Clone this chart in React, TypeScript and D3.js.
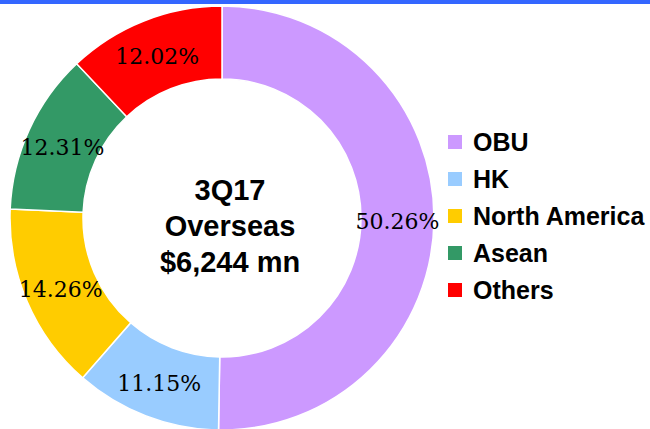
import React from 'react';
import * as d3 from 'd3';

const categories = ['OBU', 'HK', 'North America', 'Asean', 'Others'];
const shares = [50.26, 11.15, 14.26, 12.31, 12.02];
const colors = ['#CC99FF', '#99CCFF', '#FFCC00', '#339966', '#FF0000'];
const centerLines = ['3Q17', 'Overseas', '$6,244 mn'];

const W = 650;
const H = 429;

export default function App() {
  const cx = 222;
  const cy = 218;

  const pie = d3.pie<number>().sort(null).value(d => d);
  const arcs = pie(shares);
  const arc = d3.arc<d3.PieArcDatum<number>>().innerRadius(139).outerRadius(212);

  const legendY = d3.scalePoint<string>().domain(categories).range([142, 290]);

  return (
    <div style={{ position: 'absolute', left: 0, top: 0 }}>
      <svg width={W} height={H} style={{ display: 'block', background: '#fff' }}>
        <rect x={0} y={0} width={W} height={4} fill="#3366FF" />
        <g transform={`translate(${cx},${cy})`}>
          {arcs.map((a, i) => (
            <path key={i} d={arc(a) || ''} fill={colors[i]} stroke="#fff" strokeWidth={1.5} />
          ))}
          {arcs.map((a, i) => {
            const [x, y] = arc.centroid(a);
            return (
              <text
                key={'l' + i}
                x={x}
                y={y + 2}
                textAnchor="middle"
                dominantBaseline="central"
                fontFamily="'DejaVu Serif', serif"
                fontSize={22}
                fill="#000"
              >
                {shares[i].toFixed(2)}%
              </text>
            );
          })}
          {centerLines.map((t, i) => (
            <text
              key={'c' + i}
              x={8}
              y={-18 + i * 36}
              textAnchor="middle"
              fontFamily="'Liberation Sans', Arial, sans-serif"
              fontWeight="bold"
              fontSize={29}
              fill="#000"
            >
              {t}
            </text>
          ))}
        </g>
        <g>
          {categories.map((c, i) => (
            <g key={c} transform={`translate(448,${legendY(c)})`}>
              <rect x={0} y={-7} width={14} height={14} fill={colors[i]} />
              <text
                x={25}
                y={0}
                dominantBaseline="central"
                fontFamily="'Liberation Sans', Arial, sans-serif"
                fontWeight="bold"
                fontSize={25}
                fill="#000"
              >
                {c}
              </text>
            </g>
          ))}
        </g>
      </svg>
    </div>
  );
}
